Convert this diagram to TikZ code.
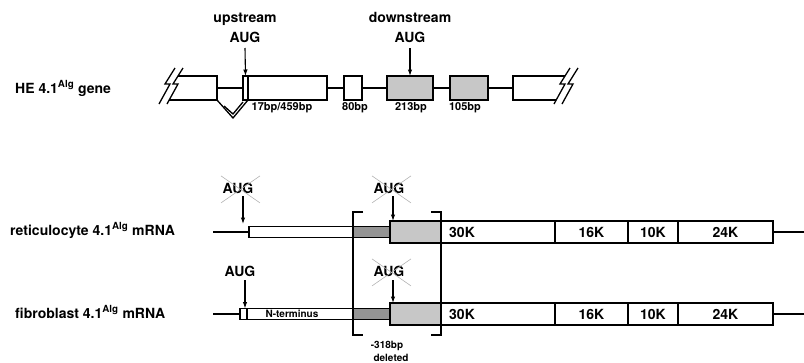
\documentclass[tikz,border=0pt]{standalone}
\usepackage{fontspec}
\setmainfont{TeX Gyre Heros}
\usetikzlibrary{arrows.meta,calc}
\definecolor{stipple}{gray}{0.78}
\definecolor{stippledark}{gray}{0.58}
\tikzset{
  glabel/.style={font=\fontsize{14}{16}\selectfont\bfseries, inner sep=0pt},
  gsmall/.style={font=\fontsize{11}{13}\selectfont\bfseries, inner sep=0pt},
  gtiny/.style ={font=\fontsize{10}{12}\selectfont\bfseries, inner sep=0pt},
  gline/.style ={line width=1.3pt},
  gexon/.style ={rectangle, draw, fill=white, line width=1.3pt, minimum height=24pt,
                 inner sep=0pt, outer sep=0pt},
  gexonsh/.style={gexon, fill=stipple, line width=2pt},
  mnarrow/.style={rectangle, draw, fill=white, line width=1.2pt, minimum height=11pt,
                  inner sep=0pt, outer sep=0pt},
  mband/.style ={mnarrow, fill=stippledark},
  mshade/.style={mnarrow, fill=stipple, minimum height=22pt},
  mdom/.style  ={mnarrow, minimum height=22pt, font=\fontsize{14}{16}\selectfont\bfseries},
  gbreak/.style={line width=1.3pt, line join=miter},
  garrow/.style={-{Latex[length=6.5pt,width=4.5pt]}, line width=1.1pt},
  gcross/.style={line width=0.6pt, black!30},
  gbracket/.style={line width=1.3pt},
}

\begin{document}
\begin{tikzpicture}[x=1pt, y=-1pt]
  \useasboundingbox (0,0) rectangle (804,362);
  % gene
  \node[glabel, anchor=base west] (genelbl) at (15,93) {HE 4.1\textsuperscript{Alg} gene};
  \draw[gbreak] (175,68) -- (165,84) -- (170,84) -- (159,104);
  \draw[gbreak] (183,68) -- (173,84) -- (178,84) -- (167,104);
  \draw[gline] (178,76) -- (217,76) -- (217,100) -- (169.2,100);
  \coordinate (g0) at (217,88);
  \node[gexon, minimum width=5pt, anchor=west] (g1) at (243,88) {};
  \node[gexon, minimum width=79pt, anchor=west] (g2) at (248,88) {};
  \node[gexon, minimum width=18pt, anchor=west] (g3) at (344,88) {};
  \node[gexonsh, minimum width=46pt, anchor=west] (g4) at (387,88) {};
  \node[gexonsh, minimum width=38pt, anchor=west] (g5) at (450,88) {};
  \coordinate (g6) at (513,88);
  \draw[gline] (565,76) -- (513,76) -- (513,100) -- (556.2,100);
  \draw[gbreak] (570,68) -- (560,84) -- (565,84) -- (554,104);
  \draw[gbreak] (578,68) -- (568,84) -- (573,84) -- (562,104);
  \draw[gline] (g0) -- (g1.west);
  \draw[gline] (g2.east) -- (g3.west);
  \draw[gline] (g3.east) -- (g4.west);
  \draw[gline] (g4.east) -- (g5.west);
  \draw[gline] (g5.east) -- (g6);
  \draw[gline] (217,100) -- (233,118) -- (g2.south west);
  \draw[gline] (224,106) -- (233,114) -- (243,102);
  \node[gsmall, anchor=base] (bp1) at (282,110) {17bp/459bp};
  \node[gsmall, anchor=base] (bp2) at (355,110) {80bp};
  \node[gsmall, anchor=base] (bp3) at (411,110) {213bp};
  \node[gsmall, anchor=base] (bp4) at (465,110) {105bp};
  \node[glabel, anchor=base] (upt) at (245,22) {upstream};
  \node[glabel, anchor=base] (upa) at (245,42) {AUG};
  \draw[garrow] (245,48) -- (g1.north);
  \node[glabel, anchor=base] (dnt) at (410,22) {downstream};
  \node[glabel, anchor=base] (dna) at (410,42) {AUG};
  \draw[garrow] (410,48) -- (g4.north);

  % reticulocyte mRNA
  \node[glabel, anchor=base west] (rlbl) at (10,235) {reticulocyte 4.1\textsuperscript{Alg} mRNA};
  \coordinate (r0) at (213,232);
  \node[mnarrow, minimum width=104pt, anchor=west] (r1) at (249,232) {};
  \node[mband, minimum width=37pt, anchor=west] (r2) at (353,232) {};
  \node[mshade, minimum width=51pt, anchor=west] (r3) at (390,232) {};
  \node[mdom, minimum width=114pt, anchor=west] (r30) at (441,232) {};
  \node[mdom, minimum width=73pt, anchor=west] (r16) at (555,232) {16K};
  \node[mdom, minimum width=50pt, anchor=west] (r10) at (628,232) {10K};
  \node[mdom, minimum width=95pt, anchor=west] (r24) at (678,232) {24K};
  \node[glabel, anchor=west] (r30t) at (449,232) {30K};
  \coordinate (rend) at (804,232);
  \draw[gline] (r0) -- (r1.west);
  \draw[gline] (r24.east) -- (rend);
  \node[glabel, anchor=base] (rua) at (238,193) {AUG};
  \draw[gcross] ([shift={(-17,-12)}]rua.center) -- ([shift={(22,15)}]rua.center);
  \draw[gcross] ([shift={(22,-12)}]rua.center) -- ([shift={(-17,15)}]rua.center);
  \coordinate (rup) at (243,224);
  \draw[garrow] (243,196) -- (rup);
  \node[glabel, anchor=base] (rda) at (389,193) {AUG};
  \draw[gcross] ([shift={(-17,-12)}]rda.center) -- ([shift={(22,15)}]rda.center);
  \draw[gcross] ([shift={(22,-12)}]rda.center) -- ([shift={(-17,15)}]rda.center);
  \draw[garrow] (393,196) -- (r3.north -| 393,0);

  % fibroblast mRNA
  \node[glabel, anchor=base west] (flbl) at (15,318) {fibroblast 4.1\textsuperscript{Alg} mRNA};
  \coordinate (f0) at (213,314);
  \node[mnarrow, minimum width=7pt, anchor=west] (f1) at (240,314) {};
  \node[mnarrow, minimum width=106pt, anchor=west] (f2) at (247,314) {};
  \node[mband, minimum width=37pt, anchor=west] (f3) at (353,314) {};
  \node[mshade, minimum width=51pt, anchor=west] (f4) at (390,314) {};
  \node[mdom, minimum width=114pt, anchor=west] (f30) at (441,314) {};
  \node[mdom, minimum width=73pt, anchor=west] (f16) at (555,314) {16K};
  \node[mdom, minimum width=50pt, anchor=west] (f10) at (628,314) {10K};
  \node[mdom, minimum width=95pt, anchor=west] (f24) at (678,314) {24K};
  \node[glabel, anchor=west] (f30t) at (449,314) {30K};
  \node[gtiny] (fnt) at (292,314) {N-terminus};
  \coordinate (fend) at (804,314);
  \draw[gline] (f0) -- (f1.west);
  \draw[gline] (f24.east) -- (fend);
  \node[glabel, anchor=base] (fua) at (240,276) {AUG};
  \draw[garrow] (245,280) -- (f1.north -| 245,0);
  \node[glabel, anchor=base] (fda) at (389,276) {AUG};
  \draw[gcross] ([shift={(-17,-12)}]fda.center) -- ([shift={(22,15)}]fda.center);
  \draw[gcross] ([shift={(22,-12)}]fda.center) -- ([shift={(-17,15)}]fda.center);
  \draw[garrow] (393,280) -- (f4.north -| 393,0);

  % deleted region
  \draw[gbracket] (363,212) -- (353,212) -- (353,335) -- (363,335);
  \draw[gbracket] (431,212) -- (441,212) -- (441,335) -- (431,335);
  \node[gtiny, anchor=base] (del1) at (387,348) {-318bp};
  \node[gtiny, anchor=base] (del2) at (391,361) {deleted};
\end{tikzpicture}
\end{document}
